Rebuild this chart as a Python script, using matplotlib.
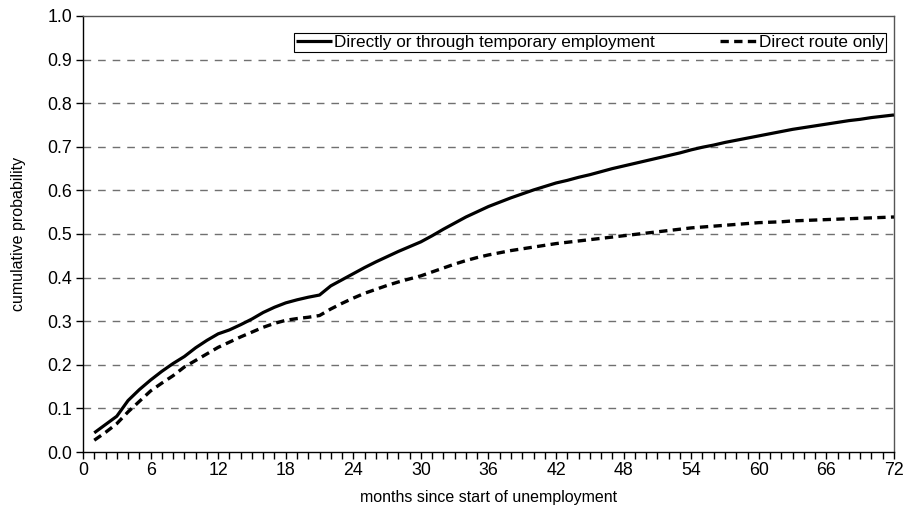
import numpy as np
import matplotlib
matplotlib.use("Agg")
import matplotlib.pyplot as plt
from matplotlib.ticker import MultipleLocator, FixedLocator

plt.rcParams['font.family'] = ['Liberation Sans', 'DejaVu Sans']

# months since start of unemployment
months = list(range(1, 73))

# directly or through temporary employment
both_routes = [0.044, 0.063, 0.082, 0.118, 0.143, 0.165, 0.185, 0.203, 0.219, 0.239,
               0.256, 0.271, 0.280, 0.292, 0.305, 0.320, 0.332, 0.342, 0.349, 0.355,
               0.360, 0.381, 0.395, 0.409, 0.423, 0.436, 0.448, 0.460, 0.471, 0.482,
               0.496, 0.511, 0.525, 0.539, 0.551, 0.563, 0.573, 0.583, 0.592, 0.601,
               0.609, 0.617, 0.623, 0.630, 0.636, 0.643, 0.650, 0.656, 0.662, 0.668,
               0.674, 0.680, 0.686, 0.693, 0.699, 0.704, 0.710, 0.715, 0.720, 0.725,
               0.730, 0.735, 0.740, 0.744, 0.748, 0.752, 0.756, 0.760, 0.763, 0.767,
               0.770, 0.773]

# direct route only
direct_only = [0.027, 0.045, 0.065, 0.092, 0.116, 0.140, 0.158, 0.175, 0.195, 0.210,
               0.225, 0.240, 0.252, 0.264, 0.275, 0.286, 0.295, 0.302, 0.306, 0.309,
               0.313, 0.328, 0.341, 0.353, 0.364, 0.373, 0.382, 0.390, 0.397, 0.404,
               0.413, 0.422, 0.431, 0.439, 0.446, 0.452, 0.457, 0.462, 0.466, 0.470,
               0.474, 0.478, 0.481, 0.484, 0.487, 0.490, 0.493, 0.496, 0.499, 0.502,
               0.505, 0.508, 0.511, 0.514, 0.516, 0.518, 0.520, 0.522, 0.524, 0.526,
               0.527, 0.528, 0.530, 0.531, 0.532, 0.533, 0.534, 0.535, 0.536, 0.537,
               0.538, 0.539]

x_ticks = list(range(0, 73, 6))
y_ticks = [round(i * 0.1, 1) for i in range(11)]

fig = plt.figure(figsize=(9.05, 5.24), dpi=100)
ax = fig.add_axes([0.0917, 0.1374, 0.8961, 0.8321])

# dashed horizontal grid
for yv in y_ticks[1:-1]:
    ax.axhline(yv, color='#707070', lw=1.0, linestyle=(0, (5.5, 5)), zorder=1)

ax.plot(months, both_routes, color='black', lw=2.3, solid_capstyle='butt',
        label='Directly or through temporary employment', zorder=3)
ax.plot(months, direct_only, color='black', lw=2.4, linestyle=(0, (2.5, 1.6)),
        label='Direct route only', zorder=3)

ax.set_xlim(0, 72)
ax.set_ylim(0, 1.0)
ax.xaxis.set_major_locator(FixedLocator(x_ticks))
ax.xaxis.set_minor_locator(MultipleLocator(1))
ax.yaxis.set_major_locator(FixedLocator(y_ticks))
ax.set_yticklabels(['%.1f' % v for v in y_ticks])
ax.tick_params(axis='both', which='both', direction='out', length=5, width=1,
               labelsize=12.8, colors='black')
ax.tick_params(axis='x', pad=2)
ax.tick_params(axis='y', pad=3)

for side in ['left', 'bottom']:
    ax.spines[side].set_color('black')
    ax.spines[side].set_linewidth(1.0)
for side in ['top', 'right']:
    ax.spines[side].set_color('#555555')
    ax.spines[side].set_linewidth(1.0)

ax.set_xlabel('months since start of unemployment', fontsize=11.5)
ax.xaxis.set_label_coords(0.5, -0.088)
ax.set_ylabel('cumulative probability', fontsize=11.5)
ax.yaxis.set_label_coords(-0.07, 0.5)

leg = ax.legend(loc='upper right', bbox_to_anchor=(0.99, 0.961), ncol=2,
                fontsize=12.3, frameon=True, fancybox=False, framealpha=1,
                borderpad=0.12, handlelength=2.1, handletextpad=0.15,
                columnspacing=3.8, borderaxespad=0)
leg.get_frame().set_edgecolor('black')
leg.get_frame().set_linewidth(0.8)

fig.savefig('out.png', dpi=100)
